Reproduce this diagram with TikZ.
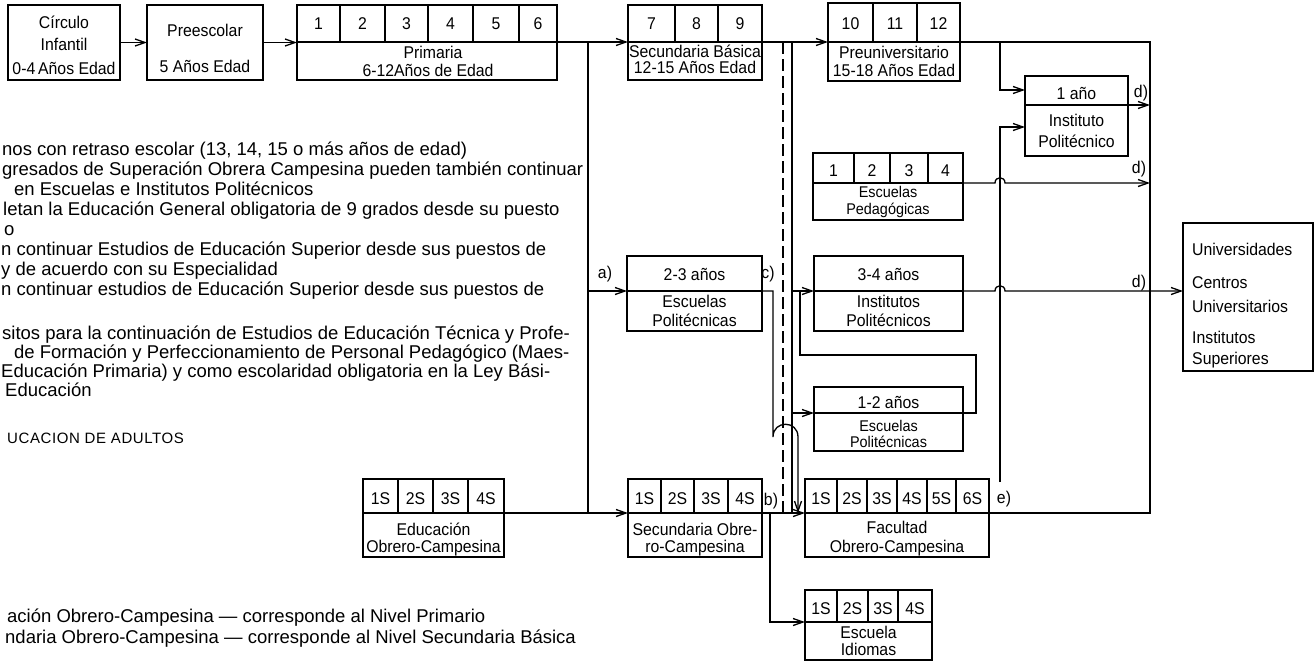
\documentclass[tikz,border=0pt]{standalone}
\usepackage{fontspec}
\setmainfont{Liberation Sans}
\newfontfamily\bxf[FakeStretch=0.93]{Liberation Sans}
\usetikzlibrary{arrows.meta}
\newcommand\cbox[6]{%
  \node[box, anchor=north west, minimum width={(#4-#2)*1pt}, minimum height={(#5-#3)*1pt}] (#1) at (#2,#3) {};
  \coordinate (#1-wm) at (#2,#6);
  \coordinate (#1-em) at (#4,#6);
  \draw[div] (#1-wm) -- (#1-em);}
\begin{document}
\begin{tikzpicture}[x=1pt,y=-1pt,
 box/.style={draw, line width=2.6pt, inner sep=0pt, outer sep=0pt},
 div/.style={line width=1.7pt},
 conn/.style={line width=1.3pt},
 arr/.style={conn, -{Straight Barb[length=10pt,width=7pt]}},
 bt/.style={font=\bxf\fontsize{17}{18}\selectfont, inner sep=0pt, anchor=base},
 st/.style={font=\bxf\fontsize{15.5}{16}\selectfont, inner sep=0pt, anchor=base},
 ut/.style={font=\bxf\fontsize{17}{18}\selectfont, inner sep=0pt, anchor=base west},
 lt/.style={font=\fontsize{18.5}{20}\selectfont, inner sep=0pt, anchor=base west}]
\fill[white] (0,0) rectangle (1316,665);
\useasboundingbox (0,0) rectangle (1316,665);

% ---------- boxes
\node[box, anchor=north west, minimum width=112pt, minimum height=75pt] (circ) at (8,5) {};
\node[box, anchor=north west, minimum width=116pt, minimum height=75pt] (pre) at (147,5) {};
\cbox{prim}{297}{5}{557}{80}{42}
\cbox{sec}{628}{5}{762}{80}{42}
\cbox{preu}{828}{3}{960}{81}{42}
\cbox{inst}{1025}{76}{1128}{156}{105}
\cbox{ped}{813}{153}{963}{220}{183}
\cbox{ipt}{814}{256}{963}{331}{291}
\cbox{ept}{627}{256}{762}{331}{291}
\cbox{epd}{814}{387}{963}{451}{413}
\node[box, anchor=north west, minimum width=130pt, minimum height=148pt] (univ) at (1183,223) {};
\cbox{eoc}{363}{479}{504}{557}{513}
\cbox{soc}{628}{479}{762}{557}{513}
\cbox{fac}{805}{479}{989}{557}{513}
\cbox{idi}{805}{590}{932}{660}{622}

% ---------- cell dividers
\foreach \xx in {340,385,428,473,519} \draw[div] (\xx,5) -- (\xx,42);
\foreach \xx in {675,718} \draw[div] (\xx,5) -- (\xx,42);
\foreach \xx in {873,917} \draw[div] (\xx,3) -- (\xx,42);
\foreach \xx in {854,890,928} \draw[div] (\xx,153) -- (\xx,183);
\foreach \xx in {398,433,468} \draw[div] (\xx,479) -- (\xx,513);
\foreach \xx in {661,694,728} \draw[div] (\xx,479) -- (\xx,513);
\foreach \xx in {837,867,897,927,956} \draw[div] (\xx,479) -- (\xx,513);
\foreach \xx in {837,868,898} \draw[div] (\xx,590) -- (\xx,622);

% ---------- cell labels
\foreach \xx/\lb [count=\i] in {318.5/1,362.5/2,406.5/3,450.5/4,496/5,538/6} \node[bt] (prim-c\i) at (\xx,29) {\lb};
\foreach \xx/\lb [count=\i] in {651.5/7,696.5/8,740/9} \node[bt] (sec-c\i) at (\xx,29) {\lb};
\foreach \xx/\lb [count=\i] in {850.5/10,895/11,938.5/12} \node[bt] (preu-c\i) at (\xx,29) {\lb};
\foreach \xx/\lb [count=\i] in {833.5/1,872/2,909/3,945.5/4} \node[bt] (ped-c\i) at (\xx,176) {\lb};
\foreach \xx/\lb [count=\i] in {380.5/1S,415.5/2S,450.5/3S,486/4S} \node[bt] (eoc-c\i) at (\xx,504) {\lb};
\foreach \xx/\lb [count=\i] in {644.5/1S,677.5/2S,711/3S,745/4S} \node[bt] (soc-c\i) at (\xx,504) {\lb};
\foreach \xx/\lb [count=\i] in {821/1S,852/2S,882/3S,912/4S,941.5/5S,972.5/6S} \node[bt] (fac-c\i) at (\xx,504) {\lb};
\foreach \xx/\lb [count=\i] in {821/1S,852.5/2S,883/3S,915/4S} \node[bt] (idi-c\i) at (\xx,614) {\lb};

% ---------- box texts
\node[bt] (circ-a) at (64,28) {Círculo};
\node[bt] (circ-b) at (64,50) {Infantil};
\node[bt] (circ-c) at (64,74) {0-4\,Años Edad};
\node[bt] (pre-a) at (205,36) {Preescolar};
\node[bt] (pre-b) at (205,72) {5 Años Edad};
\node[bt] (prim-a) at (433,58) {Primaria};
\node[bt] (prim-b) at (428,76) {6-12Años de Edad};
\node[bt] (sec-a) at (695,57) {Secundaria Básica};
\node[bt] (sec-b) at (695,73) {12-15 Años Edad};
\node[bt] (preu-a) at (894,58) {Preuniversitario};
\node[bt] (preu-b) at (894,76) {15-18 Años Edad};
\node[bt] (inst-a) at (1076.5,99) {1 año};
\node[bt] (inst-b) at (1076.5,126) {Instituto};
\node[bt] (inst-c) at (1076.5,147) {Politécnico};
\node[st] (ped-a) at (888,197) {Escuelas};
\node[st] (ped-b) at (888,214) {Pedagógicas};
\node[bt] (ipt-a) at (888.5,280) {3-4 años};
\node[bt] (ipt-b) at (888.5,307) {Institutos};
\node[bt] (ipt-c) at (888.5,326) {Politécnicos};
\node[bt] (ept-a) at (694.5,280) {2-3 años};
\node[bt] (ept-b) at (694.5,307) {Escuelas};
\node[bt] (ept-c) at (694.5,326) {Politécnicas};
\node[bt] (epd-a) at (888.5,408) {1-2 años};
\node[st] (epd-b) at (888.5,431) {Escuelas};
\node[st] (epd-c) at (888.5,447) {Politécnicas};
\node[ut] (univ-a) at (1192,255) {Universidades};
\node[ut] (univ-b) at (1192,288) {Centros};
\node[ut] (univ-c) at (1192,312) {Universitarios};
\node[ut] (univ-d) at (1192,343) {Institutos};
\node[ut] (univ-e) at (1192,364) {Superiores};
\node[bt] (eoc-a) at (433.5,535) {Educación};
\node[bt] (eoc-b) at (433.5,552) {Obrero-Campesina};
\node[bt] (soc-a) at (695,535) {Secundaria Obre-};
\node[bt] (soc-b) at (695,552) {ro-Campesina};
\node[bt] (fac-a) at (897,533) {Facultad};
\node[bt] (fac-b) at (897,552) {Obrero-Campesina};
\node[bt] (idi-a) at (868.5,638) {Escuela};
\node[bt] (idi-b) at (868.5,655) {Idiomas};

% ---------- labels
\node[bt] (la) at (605,278) {a)};
\node[bt] (lc) at (768,278) {c)};
\node[bt] (lb) at (771,505) {b)};
\node[bt] (le) at (1004,503) {e)};
\node[bt] (ld1) at (1141,97) {d)};
\node[bt] (ld2) at (1139,173) {d)};
\node[bt] (ld3) at (1139,287) {d)};

% ---------- connectors
\draw[arr] (circ.east) -- (pre.west);
\draw[arr] (pre.east) -- (prim.west);
\draw[arr] (prim-em) -- (sec-wm);
\draw[arr] (sec-em) -- (preu-wm);

\coordinate (pA) at (588,42);
\coordinate (pB) at (588,513);
\coordinate (pC) at (588,291);
\draw[conn] (pA) -- (pB);
\draw[arr] (pC) -- (ept-wm);
\draw[arr] (eoc-em) -- (soc-wm);
\draw[arr] (soc-em) -- (fac-wm);
\coordinate (sI) at (770,513);
\draw[arr] (sI) |- (idi-wm);

\coordinate (dT) at (783,42);
\coordinate (dB) at (783,513);
\draw[conn, dash pattern=on 12pt off 5pt] (dT) -- (dB);
\coordinate (vT) at (792,42);
\coordinate (vB) at (792,513);
\draw[conn] (vT) -- (vB);
\coordinate (vI) at (792,291);
\coordinate (vE) at (792,413);
\draw[arr] (vI) -- (ipt-wm);
\draw[arr] (vE) -- (epd-wm);
\coordinate (lp) at (800,291);
\draw[conn] (epd-em) -- (976,413) -- (976,355) -- (800,355) -- (lp);
\coordinate (cB) at (798,513);
\draw[arr] (ept-em) -- (773,291) -- (773,437) .. controls (773,420) and (798,420) .. (798,437) -- (cB);

\coordinate (bT) at (1150,42);
\coordinate (bB) at (1150,513);
\draw[conn] (preu-em) -- (bT) -- (bB) -- (fac-em);
\coordinate (bA) at (1000,42);
\coordinate (iIn) at (1025,90);
\draw[arr] (bA) |- (iIn);
\coordinate (b1) at (1150,105);
\draw[arr] (inst-em) -- (b1);
\coordinate (eS) at (1000,482);
\coordinate (iIn2) at (1025,127);
\draw[arr] (eS) |- (iIn2);
\coordinate (b2) at (1150,183);
\draw[arr] (ped-em) -- (995,183) .. controls (995,176) and (1005,176) .. (1005,183) -- (b2);
\coordinate (uIn) at (1183,291);
\draw[arr] (ipt-em) -- (995,291) .. controls (995,284) and (1005,284) .. (1005,291) -- (uIn);

% ---------- left texts
\node[lt] (r1) at (2,155) {nos con retraso escolar (13, 14, 15 o más años de edad)};
\node[lt] (r2) at (2,175) {gresados de Superación Obrera Campesina pueden también continuar};
\node[lt] (r3) at (14,195) {en Escuelas e Institutos Politécnicos};
\node[lt] (r4) at (3,215) {letan la Educación General obligatoria de 9 grados desde su puesto};
\node[lt] (r5) at (4,235) {o};
\node[lt] (r6) at (1,255) {n continuar Estudios de Educación Superior desde sus puestos de};
\node[lt] (r7) at (1,275) {y de acuerdo con su Especialidad};
\node[lt] (r8) at (1,295) {n continuar estudios de Educación Superior desde sus puestos de};
\node[lt] (r9) at (2,339) {sitos para la continuación de Estudios de Educación Técnica y Profe-};
\node[lt] (r10) at (14,358) {de Formación y Perfeccionamiento de Personal Pedagógico (Maes-};
\node[lt] (r11) at (1,377) {Educación Primaria) y como escolaridad obligatoria en la Ley Bási-};
\node[lt] (r12) at (5,396) {Educación};
\node[lt, font=\fontsize{15}{17}\selectfont\addfontfeature{LetterSpace=4}] (uc) at (7,443) {UCACION DE ADULTOS};
\node[lt] (bn1) at (7,622) {ación Obrero-Campesina — corresponde al Nivel Primario};
\node[lt] (bn2) at (5,643) {ndaria Obrero-Campesina — corresponde al Nivel Secundaria Básica};
\end{tikzpicture}
\end{document}
